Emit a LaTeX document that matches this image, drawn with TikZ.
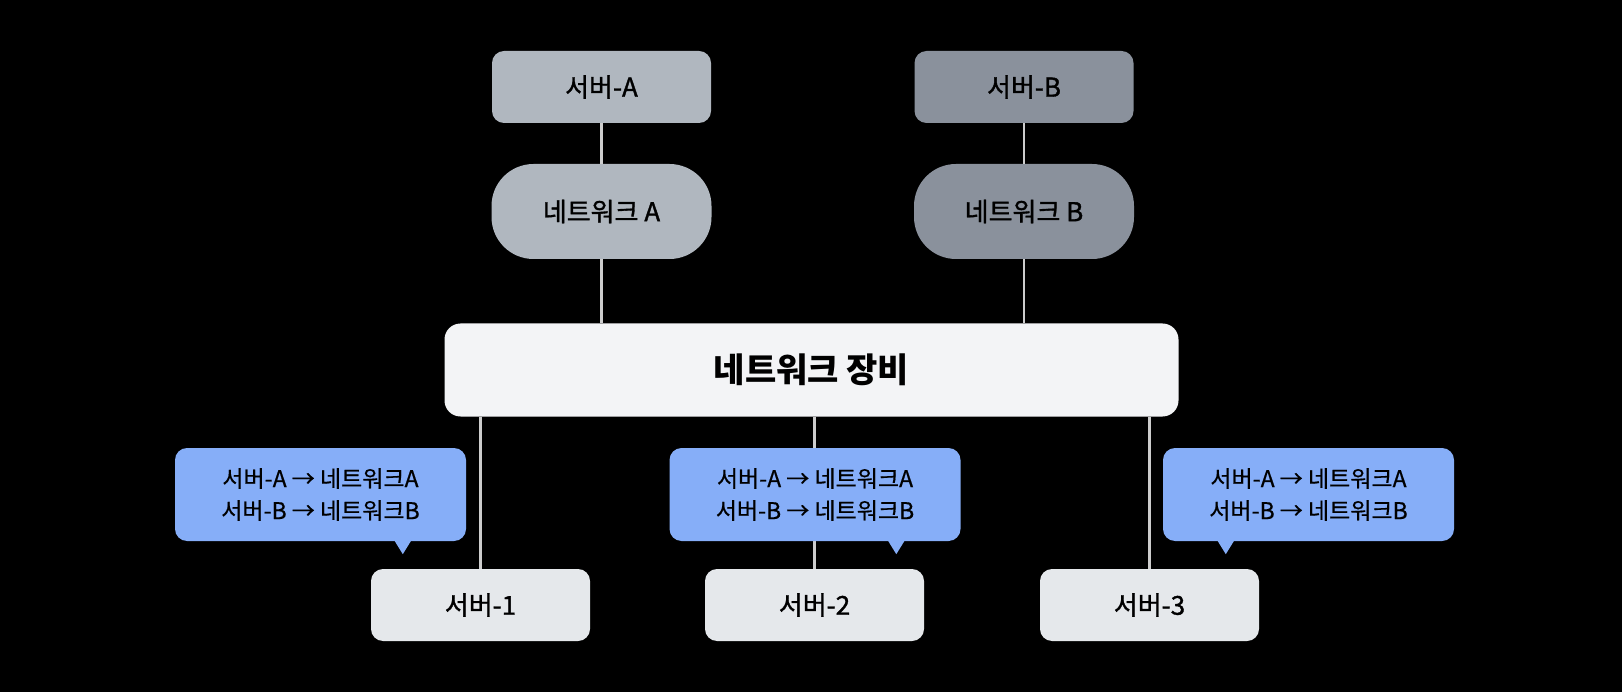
\documentclass[tikz,border=0pt]{standalone}
\usepackage{fontspec}
\setmainfont{Noto Sans CJK KR}
\newfontfamily\krmed[FakeBold=1.3]{Noto Sans CJK KR}
\newfontfamily\krtip[FakeBold=0.6]{Noto Sans CJK KR}
\usepackage{tikz}
\usepackage{xcolor}

\definecolor{srvalight}{HTML}{B0B7BF}
\definecolor{srvbdark}{HTML}{8A919C}
\definecolor{equipwhite}{HTML}{F3F4F6}
\definecolor{clientgray}{HTML}{E5E8EB}
\definecolor{tipblue}{HTML}{86AEF8}
\definecolor{wiregray}{HTML}{CDCDCD}

\tikzset{
  srvbox/.style={rounded corners=12pt, minimum width=219pt, minimum height=72pt,
    inner sep=0pt, font=\krmed\fontsize{26}{30}\selectfont},
  netbox/.style={rounded corners=42pt, minimum width=220pt, minimum height=95pt,
    inner sep=0pt, font=\krmed\fontsize{26}{30}\selectfont},
  equipbox/.style={rounded corners=16pt, fill=equipwhite, minimum width=734pt,
    minimum height=93pt, inner sep=0pt, font=\bfseries\fontsize{34}{38}\selectfont},
  tipbox/.style={rounded corners=12pt, fill=tipblue, minimum width=291pt,
    minimum height=93pt, inner sep=0pt, align=center,
    font=\krtip\fontsize{23}{32}\selectfont},
  wire/.style={draw=wiregray, line width=2.2pt}
}

\begin{document}
\begin{tikzpicture}[x=1pt,y=-1pt]
  \fill[black] (0,0) rectangle (1622,692);
  \useasboundingbox (0,0) rectangle (1622,692);

% upper servers and networks
\node[srvbox, fill=srvalight] (srvA) at (601.5,87) {서버-A};
\node[srvbox, fill=srvbdark] (srvB) at (1024,87) {서버-B};
\node[netbox, fill=srvalight] (netA) at (601.5,211.5) {네트워크 A};
\node[netbox, fill=srvbdark] (netB) at (1024,211.5) {네트워크 B};

\node[equipbox] (equip) at (811.5,370) {네트워크 장비};

% lower servers
\node[srvbox, fill=clientgray] (srv1) at (480.5,605) {서버-1};
\node[srvbox, fill=clientgray] (srv2) at (814.5,605) {서버-2};
\node[srvbox, fill=clientgray] (srv3) at (1149.5,605) {서버-3};

  \draw[wire] (srvA) -- (netA);
  \draw[wire] (srvB) -- (netB);
  \draw[wire] (netA.south) -- (netA.south |- equip.north);
  \draw[wire] (netB.south) -- (netB.south |- equip.north);
  \draw[wire] (equip.south -| srv1.north) -- (srv1.north);
  \draw[wire] (equip.south -| srv2.north) -- (srv2.north);
  \draw[wire] (equip.south -| srv3.north) -- (srv3.north);

% routing tables
\node[tipbox] (tip1) at (320.5,494.5) {서버-A → 네트워크A\\서버-B → 네트워크B};
\node[tipbox] (tip2) at (815,494.5) {서버-A → 네트워크A\\서버-B → 네트워크B};
\node[tipbox] (tip3) at (1308.5,494.5) {서버-A → 네트워크A\\서버-B → 네트워크B};
\fill[tipblue] ([xshift=220pt]tip1.south west) -- ++(8,13) -- ++(8,-13) -- cycle;
\fill[tipblue] ([xshift=219pt]tip2.south west) -- ++(8,13) -- ++(8,-13) -- cycle;
\fill[tipblue] ([xshift=55pt]tip3.south west) -- ++(8,13) -- ++(8,-13) -- cycle;
\end{tikzpicture}
\end{document}
